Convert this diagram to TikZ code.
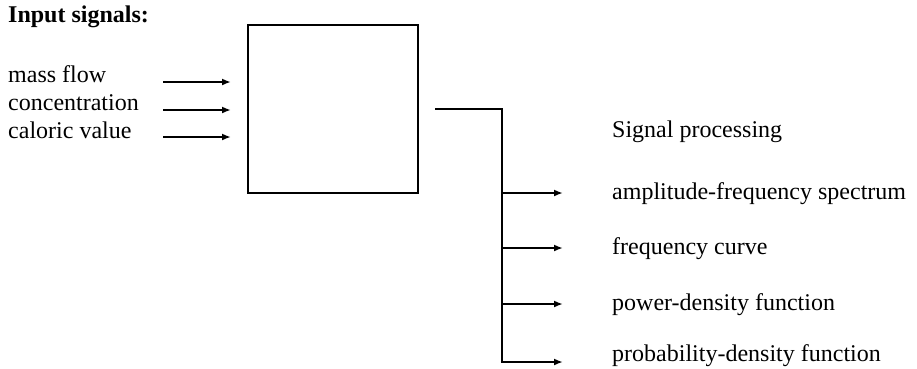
\documentclass[tikz,border=0pt]{standalone}
\usepackage{fontspec}
\setmainfont{Liberation Serif}
\usetikzlibrary{arrows.meta}
\begin{document}
\begin{tikzpicture}[x=1pt,y=-1pt,
  txt/.style={anchor=base west,inner sep=0pt,font=\fontsize{24}{28}\selectfont},
  blk/.style={draw,line width=2pt,minimum width=170pt,minimum height=168pt,inner sep=0pt},
  ln/.style={line width=2.2pt},
  arr/.style={line width=2.2pt,-{Latex[length=9pt,width=7pt]}}]
\useasboundingbox (0,0) rectangle (917,368);
% texts
\node[txt,font=\fontsize{24}{28}\selectfont\bfseries] (hdr) at (8,22) {Input signals:};
\node[txt] (t1) at (8,82) {mass flow};
\node[txt] (t2) at (8,110) {concentration};
\node[txt] (t3) at (8,138) {caloric value};
% box
\node[blk] (box) at (333,109) {};
% input arrows
\coordinate (a1) at (163,82); \coordinate (b1) at (box.west |- a1);
\coordinate (a2) at (163,110); \coordinate (b2) at (box.west |- a2);
\coordinate (a3) at (163,137); \coordinate (b3) at (box.west |- a3);
\draw[arr,shorten >=16pt] (a1) -- (b1);
\draw[arr,shorten >=16pt] (a2) -- (b2);
\draw[arr,shorten >=16pt] (a3) -- (b3);
% output
\coordinate (o0) at (435,109);
\coordinate (v0) at (502,109);
\coordinate (v4) at (502,362);
\draw[ln,line join=miter] (o0) -- (v0) -- (v4) -- ++(1,0);
\node[txt] (sp) at (612,137) {Signal processing};
\node[txt] (r1) at (612,199) {amplitude-frequency spectrum};
\node[txt] (r2) at (612,254) {frequency curve};
\node[txt] (r3) at (612,310) {power-density function};
\node[txt] (r4) at (612,361) {probability-density function};
\coordinate (c1) at (502,193); \coordinate (d1) at (563,193);
\coordinate (c2) at (502,248); \coordinate (d2) at (563,248);
\coordinate (c3) at (502,304); \coordinate (d3) at (563,304);
\coordinate (d4) at (563,362);
\draw[arr] (c1) -- (d1);
\draw[arr] (c2) -- (d2);
\draw[arr] (c3) -- (d3);
\draw[arr] ([xshift=-1.1pt]v4) -- (d4);
\end{tikzpicture}
\end{document}
